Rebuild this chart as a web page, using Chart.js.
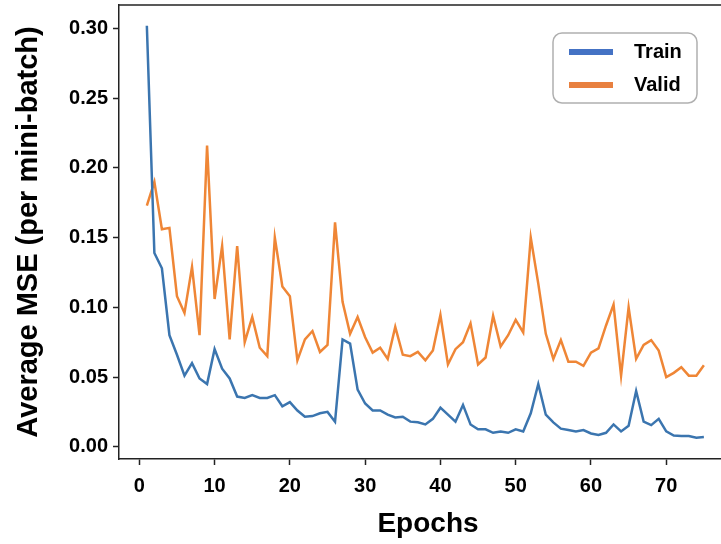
<!DOCTYPE html>
<html>
<head>
<meta charset="utf-8">
<script src="https://cdn.jsdelivr.net/npm/chart.js@4.4.0/dist/chart.umd.min.js"></script>
<style>
  html, body { margin: 0; padding: 0; background: #fff; overflow: hidden; width: 721px; height: 544px; }
  #wrap { width: 737px; height: 544px; }
</style>
</head>
<body>
<div id="wrap"><canvas id="chart"></canvas></div>
<script>
// DATOS
const epochs = [1,2,3,4,5,6,7,8,9,10,11,12,13,14,15,16,17,18,19,20,21,22,23,24,25,
  26,27,28,29,30,31,32,33,34,35,36,37,38,39,40,41,42,43,44,45,46,47,48,49,50,
  51,52,53,54,55,56,57,58,59,60,61,62,63,64,65,66,67,68,69,70,71,72,73,74,75];

const trainMse = [0.302,0.139,0.128,0.080,0.066,0.051,0.060,0.049,0.045,0.070,
  0.056,0.049,0.036,0.035,0.037,0.035,0.035,0.037,0.029,0.032,
  0.026,0.0215,0.022,0.024,0.025,0.018,0.077,0.074,0.041,0.031,
  0.026,0.026,0.023,0.021,0.0215,0.018,0.0175,0.016,0.020,0.028,
  0.023,0.018,0.030,0.016,0.0125,0.0125,0.010,0.011,0.010,0.0125,
  0.011,0.024,0.045,0.023,0.0175,0.013,0.012,0.011,0.012,0.0095,
  0.0085,0.010,0.016,0.011,0.015,0.040,0.018,0.0155,0.020,0.011,
  0.008,0.0077,0.0077,0.0065,0.007];

const validMse = [0.173,0.190,0.156,0.157,0.108,0.096,0.129,0.080,0.216,0.106,
  0.144,0.077,0.144,0.075,0.093,0.071,0.065,0.150,0.115,0.108,
  0.062,0.077,0.083,0.068,0.073,0.161,0.104,0.081,0.093,0.0785,
  0.0675,0.071,0.063,0.086,0.066,0.065,0.068,0.062,0.069,0.0945,
  0.059,0.070,0.075,0.0885,0.059,0.064,0.094,0.072,0.080,0.091,
  0.082,0.150,0.117,0.081,0.063,0.0765,0.061,0.061,0.058,0.0675,
  0.0705,0.087,0.102,0.051,0.100,0.063,0.073,0.0765,0.069,0.050,
  0.053,0.057,0.051,0.051,0.0585];

const xTicks = [0,10,20,30,40,50,60,70];
const yTicks = [0,0.05,0.10,0.15,0.20,0.25,0.30];

const FONT = "'Liberation Sans', Arial, sans-serif";

// marco superior del area del grafico
const topSpine = {
  id: 'topSpine',
  afterDraw(chart) {
    const {ctx, chartArea} = chart;
    ctx.save();
    ctx.strokeStyle = '#222';
    ctx.lineWidth = 1.5;
    ctx.beginPath();
    ctx.moveTo(chartArea.left, chartArea.top);
    ctx.lineTo(chartArea.right, chartArea.top);
    ctx.stroke();
    ctx.restore();
  }
};

// leyenda con caja redondeada
const boxLegend = {
  id: 'boxLegend',
  afterDraw(chart) {
    const {ctx, chartArea} = chart;
    const x = chartArea.right - 184, y = chartArea.top + 28, w = 144, h = 70;
    ctx.save();
    ctx.fillStyle = '#fff';
    ctx.strokeStyle = '#b0b0b0';
    ctx.lineWidth = 1.5;
    ctx.beginPath();
    ctx.roundRect(x, y, w, h, 9);
    ctx.fill();
    ctx.stroke();
    const colors = ['#4472c4', '#e8803f'];
    chart.data.datasets.forEach((ds, i) => {
      const cy = y + 19 + i * 33;
      ctx.strokeStyle = colors[i];
      ctx.lineWidth = 6;
      ctx.beginPath();
      ctx.moveTo(x + 16, cy);
      ctx.lineTo(x + 60, cy);
      ctx.stroke();
      ctx.fillStyle = '#000';
      ctx.font = 'bold 20px ' + FONT;
      ctx.textBaseline = 'middle';
      ctx.fillText(ds.label, x + 81, cy);
    });
    ctx.restore();
  }
};

const ctx = document.getElementById('chart').getContext('2d');
new Chart(ctx, {
  type: 'line',
  data: {
    datasets: [{
      label: 'Train',
      data: epochs.map((e, i) => ({x: e, y: trainMse[i]})),
      borderColor: '#3b75af',
      borderWidth: 2.5,
      pointRadius: 0,
      tension: 0,
      fill: false
    }, {
      label: 'Valid',
      data: epochs.map((e, i) => ({x: e, y: validMse[i]})),
      borderColor: '#ef8636',
      borderWidth: 2.5,
      pointRadius: 0,
      tension: 0,
      fill: false
    }]
  },
  options: {
    responsive: true,
    maintainAspectRatio: false,
    animation: false,
    layout: { padding: { top: 5, right: 0, left: 0, bottom: 0 } },
    plugins: {
      legend: { display: false },
      tooltip: { enabled: false }
    },
    scales: {
      x: {
        type: 'linear',
        min: -2.7,
        max: 79.4,
        afterBuildTicks: s => { s.ticks = xTicks.map(v => ({value: v})); },
        afterFit: s => { s.height = 85; s.paddingLeft = 0; s.paddingRight = 0; },
        grid: { drawOnChartArea: false, tickLength: 6, tickColor: '#222', tickWidth: 1.5 },
        border: { color: '#222', width: 1.5 },
        ticks: { color: '#000', font: { family: FONT, size: 20, weight: 'bold' }, padding: 9, maxRotation: 0 },
        title: { display: true, text: 'Epochs', color: '#000', font: { family: FONT, size: 28, weight: 'bold' }, padding: { bottom: 3 } }
      },
      y: {
        min: -0.0088,
        max: 0.3169,
        afterBuildTicks: s => { s.ticks = yTicks.map(v => ({value: v})); },
        afterFit: s => { s.width = 119; s.paddingTop = 0; s.paddingBottom = 0; },
        grid: { drawOnChartArea: false, tickLength: 6, tickColor: '#222', tickWidth: 1.5 },
        border: { color: '#222', width: 1.5 },
        ticks: { color: '#000', font: { family: FONT, size: 20, weight: 'bold' }, padding: 5, callback: v => v.toFixed(2) },
        title: { display: true, text: 'Average MSE (per mini-batch)', color: '#000', font: { family: FONT, size: 29, weight: 'bold' }, padding: { top: 12 } }
      }
    }
  },
  plugins: [topSpine, boxLegend]
});
</script>
</body>
</html>
